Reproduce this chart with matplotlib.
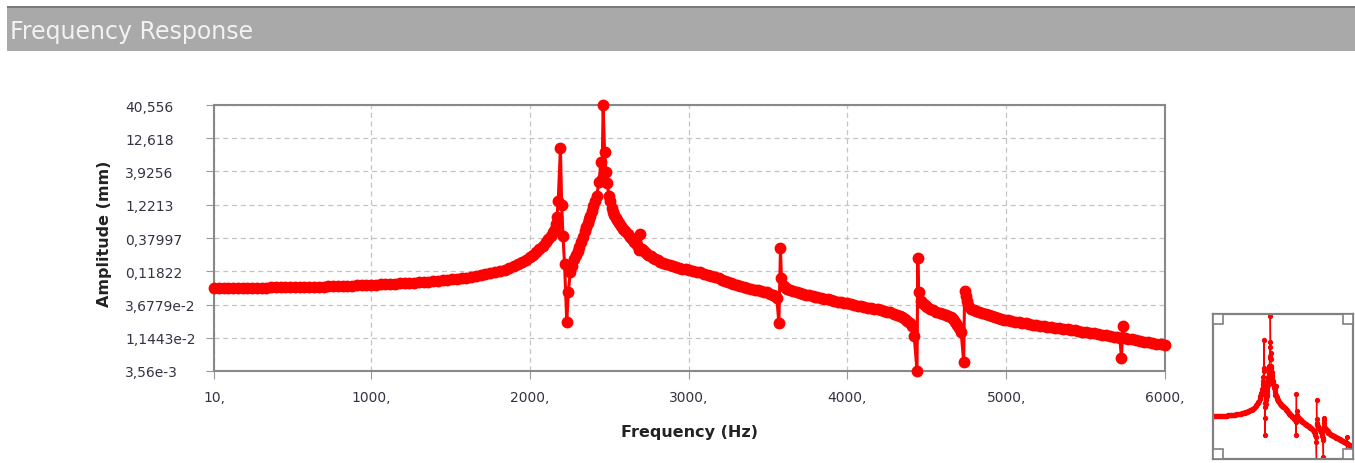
import matplotlib
matplotlib.use("Agg")
import matplotlib.pyplot as plt
from matplotlib.patches import Rectangle

# frequency (Hz) and amplitude (mm), ten per row
freq = [10, 40, 70, 100, 130, 160, 190, 220, 250, 280,
        310, 340, 370, 400, 430, 460, 490, 520, 550, 580,
        610, 640, 670, 700, 730, 760, 790, 820, 850, 880,
        910, 940, 970, 1000, 1030, 1060, 1090, 1120, 1150, 1180,
        1210, 1240, 1270, 1300, 1330, 1360, 1390, 1420, 1450, 1480,
        1510, 1540, 1570, 1600, 1630, 1660, 1690, 1720, 1750, 1780,
        1810, 1840, 1870, 1900, 1925, 1950, 1975, 2000, 2020, 2040,
        2060, 2080, 2100, 2115, 2130, 2145, 2155, 2163, 2170, 2178,
        2192, 2200, 2208, 2218, 2232, 2242, 2254, 2266, 2280, 2290,
        2300, 2310, 2320, 2333, 2345, 2355, 2365, 2373, 2381, 2390,
        2400, 2410, 2420, 2436, 2446, 2454, 2461, 2470, 2478, 2487,
        2497, 2505, 2515, 2523, 2532, 2540, 2550, 2560, 2573, 2586,
        2600, 2615, 2630, 2645, 2658, 2672, 2684, 2694, 2704, 2717,
        2730, 2745, 2760, 2775, 2790, 2806, 2822, 2840, 2860, 2880,
        2900, 2920, 2940, 2960, 2980, 3000, 3025, 3050, 3074, 3097,
        3120, 3142, 3165, 3188, 3210, 3230, 3250, 3266, 3282, 3304,
        3325, 3348, 3370, 3392, 3415, 3435, 3455, 3475, 3495, 3512,
        3530, 3545, 3555, 3568, 3578, 3584, 3598, 3610, 3621, 3640,
        3660, 3680, 3700, 3720, 3740, 3760, 3780, 3795, 3810, 3832,
        3855, 3875, 3895, 3918, 3940, 3960, 3980, 4000, 4020, 4043,
        4065, 4085, 4105, 4128, 4150, 4170, 4190, 4210, 4228, 4250,
        4270, 4290, 4310, 4328, 4345, 4362, 4378, 4392, 4405, 4420,
        4438, 4443, 4448, 4462, 4472, 4480, 4492, 4504, 4522, 4540,
        4560, 4580, 4600, 4620, 4636, 4651, 4666, 4680, 4692, 4702,
        4716, 4732, 4738, 4745, 4752, 4760, 4777, 4795, 4810, 4830,
        4850, 4870, 4890, 4910, 4930, 4948, 4966, 4988, 5010, 5033,
        5055, 5078, 5100, 5122, 5145, 5168, 5190, 5213, 5235, 5258,
        5281, 5305, 5330, 5358, 5386, 5408, 5430, 5455, 5480, 5505,
        5530, 5555, 5580, 5605, 5630, 5655, 5680, 5698, 5715, 5726,
        5734, 5745, 5768, 5790, 5815, 5840, 5865, 5890, 5918, 5945,
        5972, 6000]
amp = [0.0660, 0.0660, 0.0660, 0.0661, 0.0661, 0.0662, 0.0662, 0.0663, 0.0664, 0.0666,
       0.0667, 0.0668, 0.0669, 0.0671, 0.0672, 0.0674, 0.0676, 0.0678, 0.0680, 0.0682,
       0.0684, 0.0686, 0.0689, 0.0692, 0.0695, 0.0698, 0.0702, 0.0705, 0.0709, 0.0713,
       0.0717, 0.0722, 0.0727, 0.0732, 0.0737, 0.0743, 0.0749, 0.0755, 0.0762, 0.0769,
       0.0777, 0.0785, 0.0794, 0.0803, 0.0813, 0.0823, 0.0835, 0.0847, 0.0860, 0.0875,
       0.0890, 0.0907, 0.0926, 0.0948, 0.0972, 0.0997, 0.1025, 0.106, 0.110, 0.114,
       0.119, 0.125, 0.132, 0.140, 0.150, 0.162, 0.176, 0.193, 0.21, 0.235,
       0.26, 0.29, 0.33, 0.37, 0.41, 0.47, 0.53, 0.62, 0.79, 1.41,
       8.9, 1.21, 0.41, 0.152, 0.020, 0.058, 0.115, 0.144, 0.18, 0.21,
       0.24, 0.28, 0.33, 0.40, 0.48, 0.56, 0.64, 0.73, 0.83, 0.97,
       1.15, 1.38, 1.68, 2.72, 5.54, 3.02, 40.5, 7.87, 3.82, 2.60,
       1.68, 1.40, 1.10, 0.94, 0.85, 0.78, 0.71, 0.64, 0.58, 0.52,
       0.48, 0.44, 0.40, 0.37, 0.335, 0.30, 0.25, 0.44, 0.26, 0.24,
       0.225, 0.212, 0.20, 0.19, 0.182, 0.173, 0.165, 0.158, 0.152, 0.147,
       0.142, 0.137, 0.133, 0.129, 0.126, 0.123, 0.120, 0.117, 0.114, 0.109,
       0.105, 0.100, 0.096, 0.092, 0.088, 0.084, 0.081, 0.078, 0.0755, 0.073,
       0.071, 0.0685, 0.066, 0.064, 0.062, 0.0605, 0.059, 0.0577, 0.0564, 0.054,
       0.052, 0.049, 0.046, 0.0192, 0.265, 0.092, 0.070, 0.066, 0.0634, 0.061,
       0.059, 0.057, 0.055, 0.0535, 0.052, 0.051, 0.050, 0.0486, 0.0473, 0.0461,
       0.045, 0.0439, 0.0428, 0.0417, 0.0407, 0.0398, 0.0390, 0.0382, 0.0374, 0.0364,
       0.0355, 0.0346, 0.0338, 0.0330, 0.0322, 0.0316, 0.031, 0.0303, 0.0296, 0.0287,
       0.0278, 0.0268, 0.0258, 0.0247, 0.0235, 0.0222, 0.0208, 0.0192, 0.0175, 0.0123,
       0.0036, 0.186, 0.0564, 0.042, 0.039, 0.037, 0.035, 0.0333, 0.0315, 0.030,
       0.0287, 0.0275, 0.0263, 0.0252, 0.0243, 0.0235, 0.0220, 0.020, 0.018, 0.0160,
       0.0139, 0.0049, 0.0597, 0.0501, 0.042, 0.036, 0.0314, 0.0300, 0.029, 0.0281,
       0.0272, 0.0263, 0.0255, 0.0246, 0.0238, 0.0229, 0.0221, 0.0216, 0.0211, 0.0206,
       0.0202, 0.0198, 0.0194, 0.0190, 0.0186, 0.0182, 0.0179, 0.0175, 0.0172, 0.0168,
       0.0165, 0.0162, 0.0160, 0.0158, 0.0156, 0.0152, 0.0149, 0.0145, 0.0142, 0.0139,
       0.0136, 0.0133, 0.0130, 0.0127, 0.0125, 0.0122, 0.0119, 0.0117, 0.0114, 0.0056,
       0.0175, 0.0114, 0.0111, 0.0108, 0.0105, 0.0103, 0.0100, 0.0098, 0.0095, 0.0093,
       0.0091, 0.0089]

y_ticks = [0.00356, 0.011443, 0.036779, 0.11822, 0.37997, 1.2213, 3.9256, 12.618, 40.556]
y_labels = ['3,56e-3', '1,1443e-2', '3,6779e-2', '0,11822', '0,37997', '1,2213',
            '3,9256', '12,618', '40,556']
x_ticks = [10, 1000, 2000, 3000, 4000, 5000, 6000]
x_labels = ['10,', '1000,', '2000,', '3000,', '4000,', '5000,', '6000,']

W, H = 1355, 464
fig = plt.figure(figsize=(W / 100, H / 100), dpi=100)

# header bar
fig.patches.append(Rectangle((7 / W, 1 - 52 / H), 1, 44 / H, transform=fig.transFigure,
                             facecolor='#a9a9a9', edgecolor='none'))
fig.patches.append(Rectangle((7 / W, 1 - 9 / H), 1, 2 / H, transform=fig.transFigure,
                             facecolor='#7a7a7a', edgecolor='none'))
fig.text(10 / W, 1 - 32 / H, 'Frequency Response', color='#f2f2f2', fontsize=17,
         va='center', ha='left')

ax = fig.add_axes([214 / W, 1 - 372 / H, 951 / W, 266 / H])
ax.plot(freq, amp, '-o', color='#ff0000', lw=2.2, ms=7.5, clip_on=False, zorder=3)
ax.set_yscale('log')
ax.set_xlim(10, 6000)
ax.set_ylim(0.00356, 40.556)
ax.minorticks_off()
ax.set_yticks(y_ticks)
ax.set_yticklabels(y_labels, ha='left')
ax.set_xticks(x_ticks)
ax.set_xticklabels(x_labels)
ax.tick_params(axis='y', length=6, color='#999999', pad=58, labelsize=10, labelcolor='#333344')
ax.tick_params(axis='x', length=6, color='#999999', pad=8, labelsize=10, labelcolor='#333344')
ax.grid(True, color='#c4c4c4', lw=0.9, ls=(0, (4, 3)))
for s in ax.spines.values():
    s.set_color('#888888')
    s.set_linewidth(1.5)
ax.set_xlabel('Frequency (Hz)', fontsize=11.5, fontweight='bold', color='#222222')
ax.set_ylabel('Amplitude (mm)', fontsize=11.5, fontweight='bold', color='#222222')
ax.xaxis.set_label_coords(0.5, -0.2)
ax.yaxis.set_label_coords(-0.107, 0.52)

# overview thumbnail
ax_in = fig.add_axes([1213 / W, 4 / H, 140 / W, 145 / H])
ax_in.plot(freq, amp, '-o', color='#ff0000', lw=1, ms=2.8)
ax_in.set_yscale('log')
ax_in.set_xlim(10, 6000)
ax_in.set_ylim(0.0042, 46)
ax_in.set_xticks([])
ax_in.set_yticks([])
ax_in.minorticks_off()
for s in ax_in.spines.values():
    s.set_color('#808080')
    s.set_linewidth(1.6)
sw, sh = 10 / 140, 10 / 145
for cx, cy in [(0, 0), (1 - sw, 0), (0, 1 - sh), (1 - sw, 1 - sh)]:
    ax_in.add_patch(Rectangle((cx, cy), sw, sh, transform=ax_in.transAxes,
                              facecolor='white', edgecolor='#808080', lw=1.2, zorder=5))

fig.savefig('out.png', dpi=100)
